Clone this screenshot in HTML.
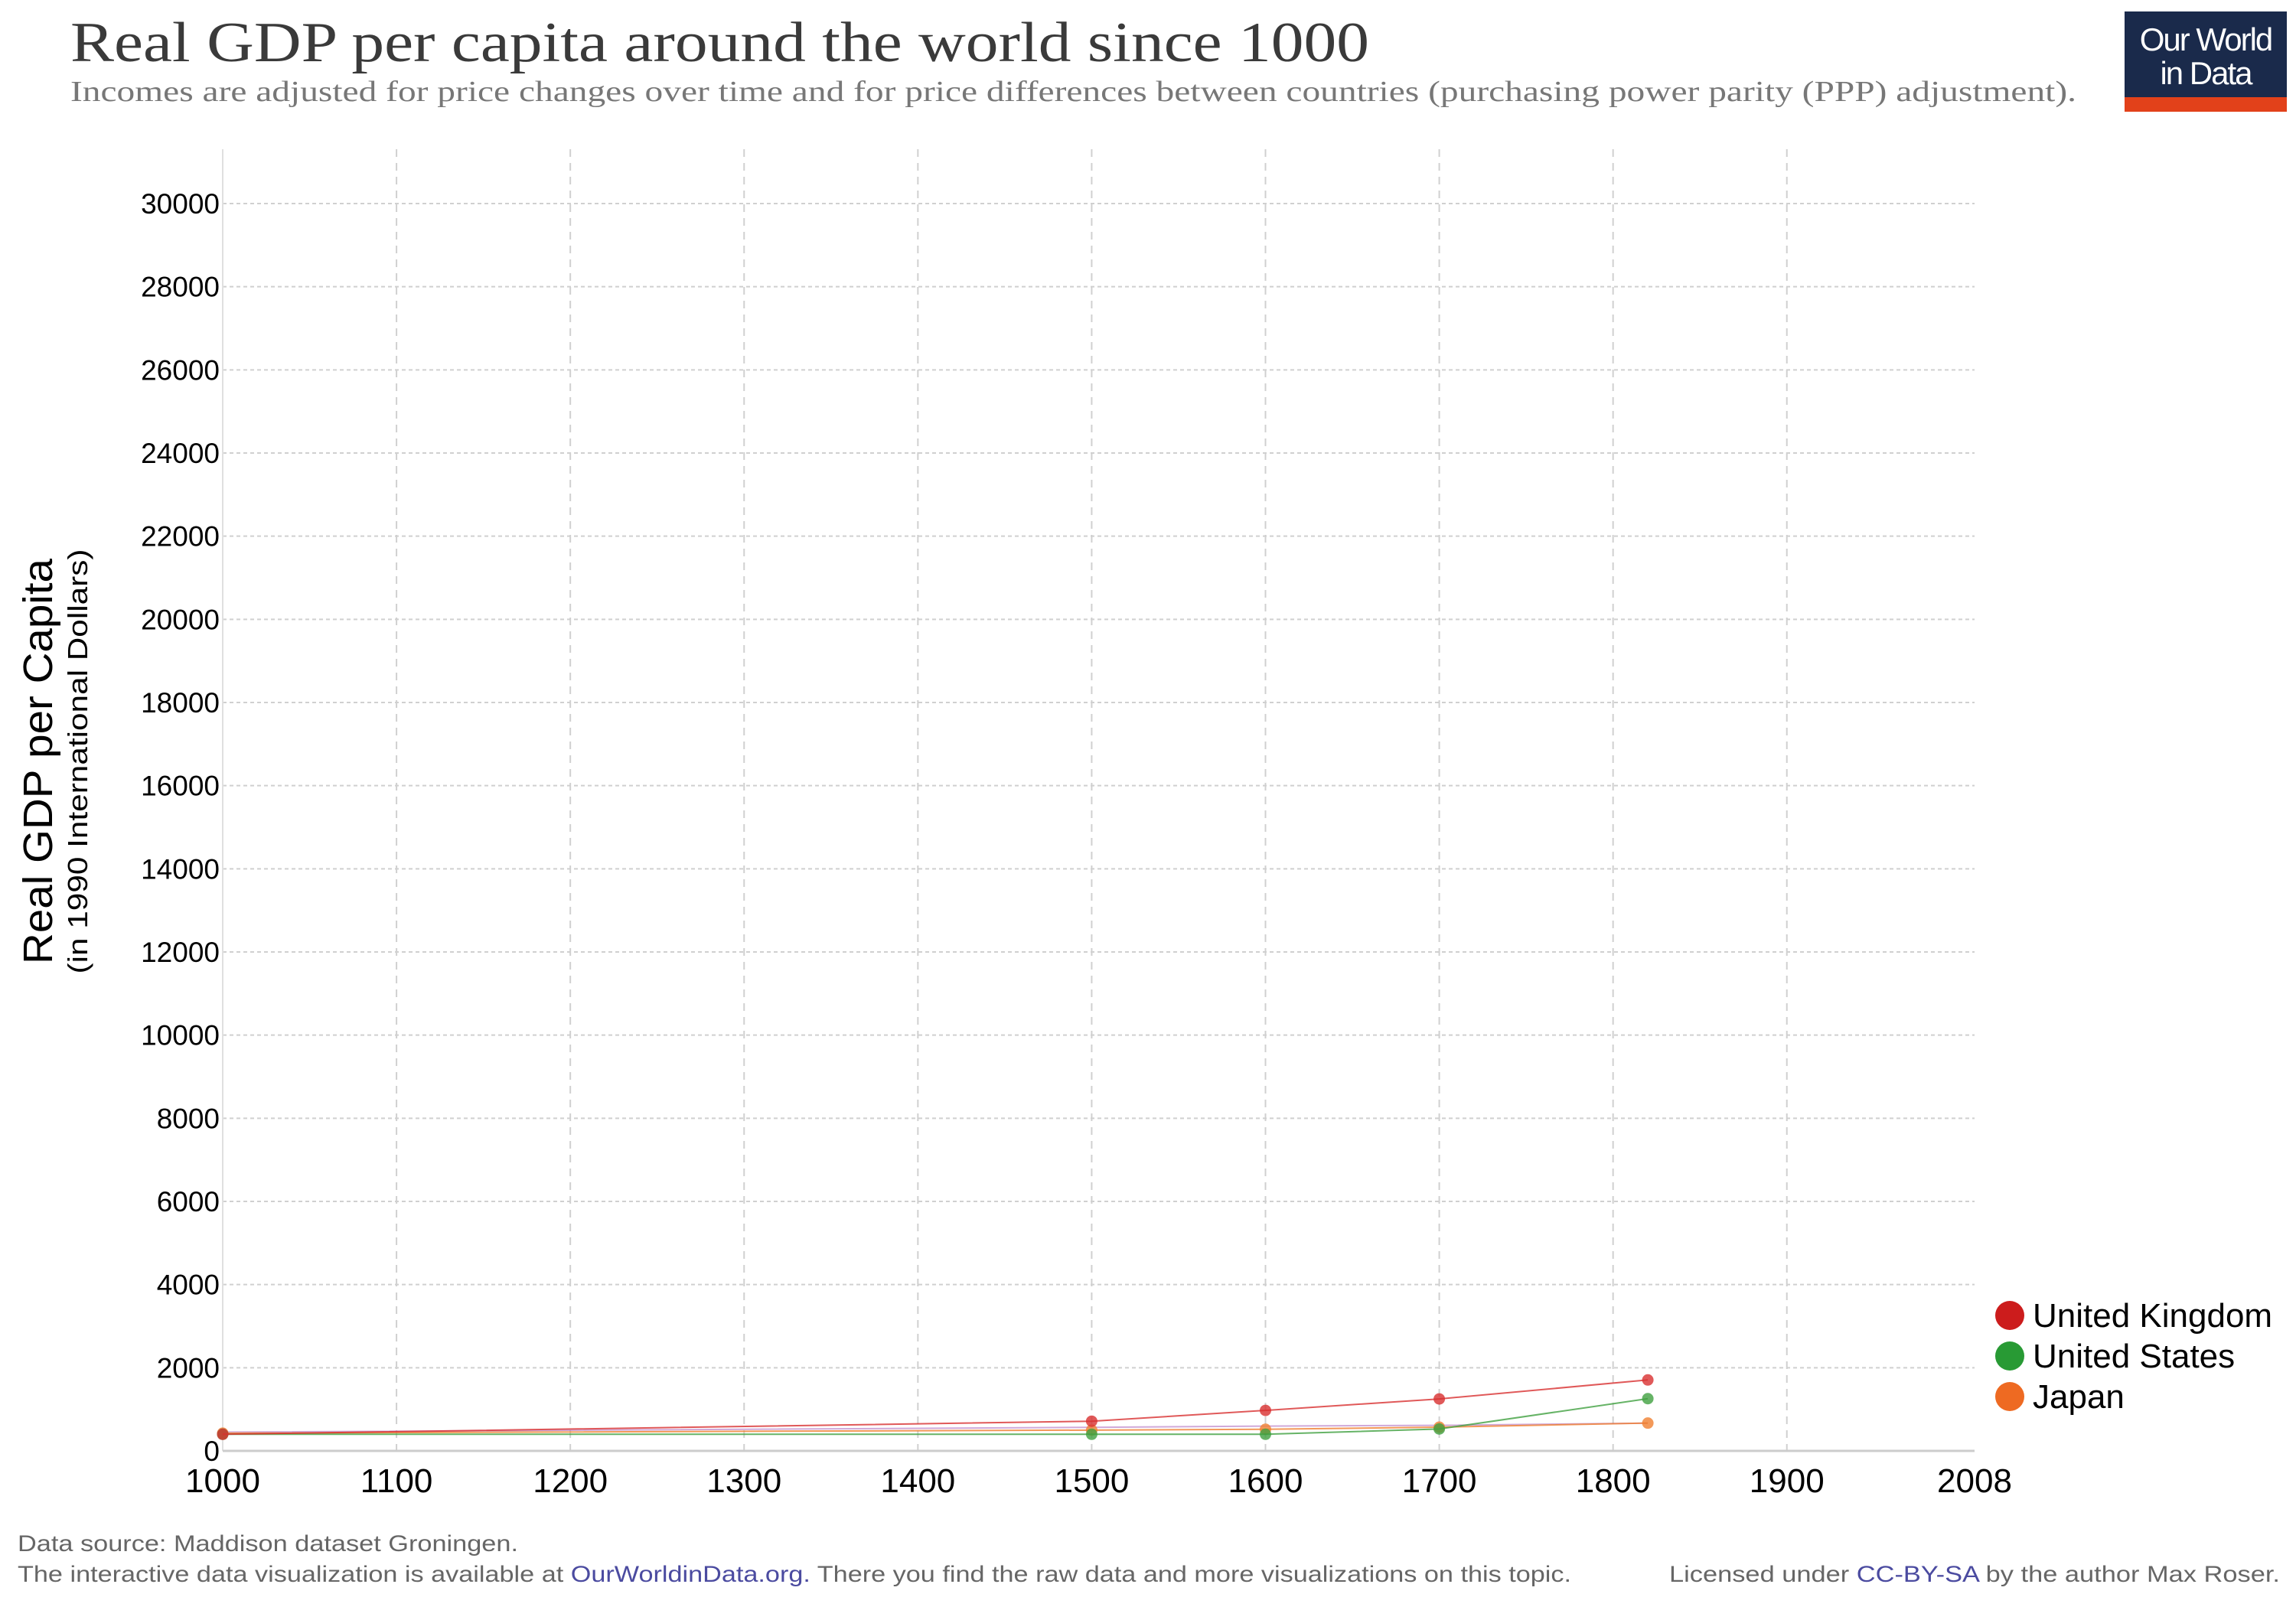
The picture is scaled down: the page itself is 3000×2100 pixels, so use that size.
<!DOCTYPE html>
<html><head><meta charset="utf-8"><style>
html,body{margin:0;padding:0;background:#fff;width:3000px;height:2100px;overflow:hidden}
svg{display:block}
</style></head><body>
<svg id="chart" width="3000" height="2100" xmlns="http://www.w3.org/2000/svg">
<text x="92" y="80" font-family="Liberation Serif, serif" font-size="74" fill="#3a3a3a" textLength="1697" lengthAdjust="spacingAndGlyphs">Real GDP per capita around the world since 1000</text>
<text x="92" y="132" font-family="Liberation Serif, serif" font-size="38" fill="#777" textLength="2621" lengthAdjust="spacingAndGlyphs">Incomes are adjusted for price changes over time and for price differences between countries (purchasing power parity (PPP) adjustment).</text>
<g>
<rect x="2776" y="15" width="212" height="112" fill="#1a2a4b"/>
<rect x="2776" y="127" width="212" height="19" fill="#e2411a"/>
<text x="2882" y="66" text-anchor="middle" font-family="Liberation Sans, sans-serif" font-size="42" fill="#fff" letter-spacing="-2">Our World</text>
<text x="2882" y="110" text-anchor="middle" font-family="Liberation Sans, sans-serif" font-size="42" fill="#fff" letter-spacing="-2">in Data</text>
</g>
<g id="grid"></g>
<g id="axes"></g>
<g id="series"></g>
<g>
<text transform="translate(68,995) rotate(-90)" text-anchor="middle" font-family="Liberation Sans, sans-serif" font-size="54" fill="#000" textLength="530" lengthAdjust="spacingAndGlyphs">Real GDP per Capita</text>
<text transform="translate(114,995) rotate(-90)" text-anchor="middle" font-family="Liberation Sans, sans-serif" font-size="36" fill="#000" textLength="555" lengthAdjust="spacingAndGlyphs">(in 1990 International Dollars)</text>
</g>
<g id="legend"></g>
<text x="23" y="2027" font-family="Liberation Sans, sans-serif" font-size="30" fill="#666" textLength="654" lengthAdjust="spacingAndGlyphs">Data source: Maddison dataset Groningen.</text>
<text x="23" y="2067" font-family="Liberation Sans, sans-serif" font-size="30" fill="#666" textLength="2030" lengthAdjust="spacingAndGlyphs">The interactive data visualization is available at <tspan fill="#4b4ba0">OurWorldinData.org.</tspan> There you find the raw data and more visualizations on this topic.</text>
<text x="2181" y="2067" font-family="Liberation Sans, sans-serif" font-size="30" fill="#666" textLength="798" lengthAdjust="spacingAndGlyphs">Licensed under <tspan fill="#4b4ba0">CC-BY-SA</tspan> by the author Max Roser.</text>
</svg>
<script>
const years = [1000, 1500, 1600, 1700, 1820];
const ukValues = [400, 714, 974, 1250, 1706];
const usValues = [400, 400, 400, 527, 1257];
const japanValues = [425, 500, 520, 570, 669];
const worldValues = [450, 566, 596, 615, 667];
const xTicks = [1000,1100,1200,1300,1400,1500,1600,1700,1800,1900,2008];
const yTicks = [0,2000,4000,6000,8000,10000,12000,14000,16000,18000,20000,22000,24000,26000,28000,30000];
const legendLabels = ["United Kingdom","United States","Japan"];

const NS="http://www.w3.org/2000/svg";
const X0=291,X1=2580,Y0=1896,Y1=266;
const xScale=v=>X0+(v-1000)/(2008-1000)*(X1-X0);
const yScale=v=>Y0-(v/30000)*(Y0-Y1);
function mk(tag,attrs,parent){const e=document.createElementNS(NS,tag);for(const k in attrs)e.setAttribute(k,attrs[k]);parent.appendChild(e);return e;}
const grid=document.getElementById('grid'),axes=document.getElementById('axes'),series=document.getElementById('series'),legend=document.getElementById('legend');

xTicks.forEach(t=>{
  const x=xScale(t);
  if(t!==1000&&t!==2008){
    const l=mk('line',{x1:x,x2:x,y1:195,y2:Y0,stroke:'#d0d0d0','stroke-width':2,'stroke-dasharray':'10,8'},grid);
    
    
  }
  const tx=mk('text',{x:x,y:1950,'text-anchor':'middle','font-family':'Liberation Sans, sans-serif','font-size':44,fill:'#000'},axes);
  tx.textContent=t;
  
  
});
yTicks.forEach(t=>{
  const y=yScale(t);
  if(t!==0){
    const l=mk('line',{x1:X0,x2:X1,y1:y,y2:y,stroke:'#d0d0d0','stroke-width':2,'stroke-dasharray':'5,4'},grid);
    
    
  }
  const tx=mk('text',{x:287,y:y+13,'text-anchor':'end','font-family':'Liberation Sans, sans-serif','font-size':37,fill:'#000'},axes);
  tx.textContent=t;
  
  
});
const la=mk('line',{x1:X0,x2:X0,y1:195,y2:Y0,stroke:'#e0e0e0','stroke-width':2},axes);


const lb=mk('line',{x1:X0,x2:X1,y1:Y0,y2:Y0,stroke:'#ccc','stroke-width':3},axes);



function drawSeries(vals,color,name,dots,op){
  const pts=years.map((yr,i)=>xScale(yr)+','+yScale(vals[i])).join(' ');
  const p=mk('polyline',{points:pts,fill:'none',stroke:color,'stroke-width':2,'stroke-opacity':op},series);
  
  
  if(dots) years.forEach((yr,i)=>{
    const c=mk('circle',{cx:xScale(yr),cy:yScale(vals[i]),r:7.5,fill:color,'fill-opacity':0.8},series);
    
    
  });
}
drawSeries(worldValues,'#b070c0','world',false,0.6);
drawSeries(japanValues,'#f08030','japan',true,0.8);
drawSeries(usValues,'#40a040','united-states',true,0.8);
drawSeries(ukValues,'#d83030','united-kingdom',true,0.8);

const lcol=['#cc1c1c','#289a34','#ee6a22'];
legendLabels.forEach((lab,i)=>{
  const y=1719+i*53;
  const g=mk('g',{},legend);
  
  
  mk('circle',{cx:2626,cy:y,r:19,fill:lcol[i]},g);
  const t=mk('text',{x:2656,y:y+15,'font-family':'Liberation Sans, sans-serif','font-size':44,fill:'#000'},g);
  t.textContent=lab;
});
</script>
</body></html>
